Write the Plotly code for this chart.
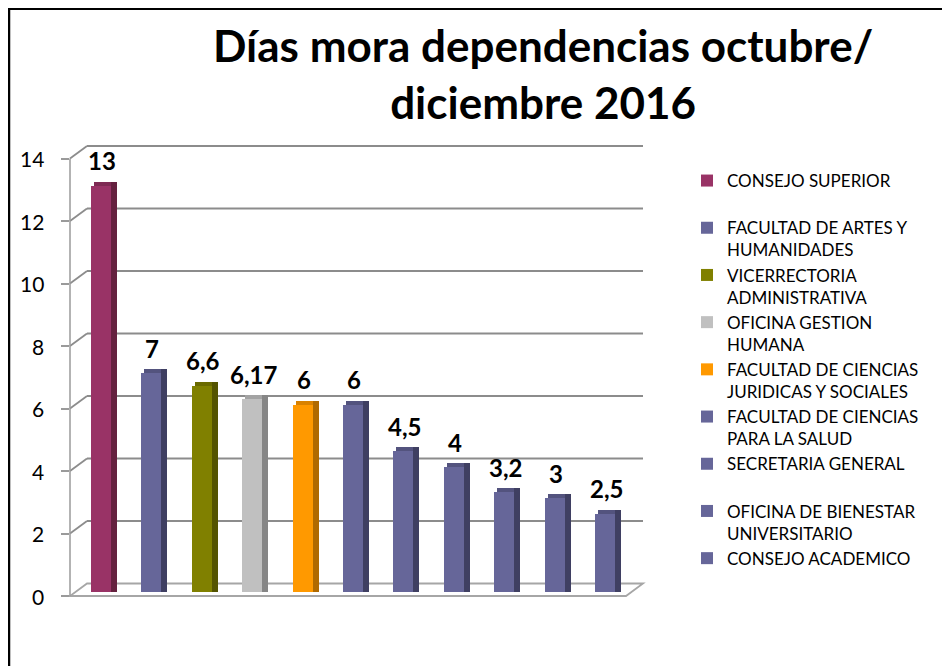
import plotly.graph_objects as go

# ---------------- data ----------------
categories = [
    "CONSEJO SUPERIOR",
    "FACULTAD DE ARTES Y<br>HUMANIDADES",
    "VICERRECTORIA<br>ADMINISTRATIVA",
    "OFICINA GESTION<br>HUMANA",
    "FACULTAD DE CIENCIAS<br>JURIDICAS Y SOCIALES",
    "FACULTAD DE CIENCIAS<br>PARA LA SALUD",
    "SECRETARIA GENERAL",
    "OFICINA DE BIENESTAR<br>UNIVERSITARIO",
    "CONSEJO ACADEMICO",
    "",
    "",
]
values = [13, 7, 6.6, 6.17, 6, 6, 4.5, 4, 3.2, 3, 2.5]
y_ticks = [0, 2, 4, 6, 8, 10, 12, 14]
y_tick_text = ["0", "2", "4", "6", "8", "10", "12", "14"]
title_text = "Días mora dependencias octubre/<br>diciembre 2016"

# ---------------- styling ----------------
front_colors = ["#993366", "#666699", "#808000", "#C0C0C0", "#FF9900",
                "#666699", "#666699", "#666699", "#666699", "#666699", "#666699"]
side_colors = ["#65213F", "#3F3F62", "#545400", "#868686", "#B06A00",
               "#3F3F62", "#3F3F62", "#3F3F62", "#3F3F62", "#3F3F62", "#3F3F62"]
top_colors = ["#7E2A53", "#53537E", "#6A6A00", "#A3A3A3", "#D98200",
              "#53537E", "#53537E", "#53537E", "#53537E", "#53537E", "#53537E"]

FONT = "Lato"
OFF = 8                                   # page body margin
W_FIG, H_FIG = 950 - OFF, 666 - OFF
L, R, T, B = 70 - OFF, 643 - OFF, 140 - OFF, 600 - OFF
PW, PH = R - L, B - T
K = 31.25                                 # px per unit (y)
SP = 50.4                                 # px per category (x)
FRONT0, BACK0, BAR0 = 596 - OFF, 583.5 - OFF, 592 - OFF
DX = 17

def sx(p):  # screen x -> paper
    return (p - OFF - L) / PW

def sy(p):  # screen y -> paper
    return (B - (p - OFF)) / PH

def xp(p):  # figure x -> paper
    return (p - L) / PW

def yp(p):
    return (B - p) / PH

def yrange(zero_px):
    lo = -(B - zero_px) / K
    return [lo, lo + PH / K]

x_lo = -((104 - OFF) - L) / SP
x_range = [x_lo, x_lo + PW / SP]

fig = go.Figure()

front_w, front_off = 20 / SP, -13 / SP
side_w, side_off = 6 / SP, 7 / SP
top_h = 4 / K

for i, (name, v) in enumerate(zip(categories, values)):
    show = name != ""
    label = name if "<br>" in name else name + "<br> "
    fig.add_trace(go.Bar(
        x=[i], y=[v], width=front_w, offset=front_off,
        marker=dict(color=front_colors[i], line=dict(width=0)),
        name=label if show else f"bar{i}", showlegend=show,
        yaxis="y2", hoverinfo="skip",
    ))
    fig.add_trace(go.Bar(
        x=[i], y=[top_h], base=[v], width=front_w, offset=front_off + 3 / SP,
        marker=dict(color=top_colors[i], line=dict(width=0)),
        showlegend=False, yaxis="y2", hoverinfo="skip",
    ))
    fig.add_trace(go.Bar(
        x=[i], y=[v + top_h], width=side_w, offset=side_off,
        marker=dict(color=side_colors[i], line=dict(width=0)),
        showlegend=False, yaxis="y2", hoverinfo="skip",
    ))

annotations = []
for i, v in enumerate(values):
    annotations.append(dict(
        x=i - 2 / SP, y=v, xref="x", yref="y2",
        text="<b>" + (f"{v:g}".replace(".", ",")) + "</b>",
        showarrow=False, yanchor="middle", yshift=25,
        font=dict(family=FONT, size=24, color="black"),
    ))

# y tick labels (front scale)
for t, s in zip(y_ticks, y_tick_text):
    annotations.append(dict(
        x=sx(46), y=t, xref="paper", yref="y",
        text=s, showarrow=False, xanchor="right", yanchor="middle",
        font=dict(family=FONT, size=21, color="black"),
    ))

# title
annotations.append(dict(
    x=sx(543), y=sy(74), xref="paper", yref="paper",
    text="<b>" + title_text + "</b>", showarrow=False,
    xanchor="center", yanchor="middle", align="center",
    font=dict(family=FONT, size=44, color="black"),
))

shapes = []
grid_col = "#8C8C8C"
for t in y_ticks:
    yb = BACK0 - K * t
    yf = FRONT0 - K * t
    if t != 0:
        shapes.append(dict(type="line", xref="paper", yref="paper",
                           x0=xp(L + DX), x1=xp(R), y0=yp(yb), y1=yp(yb),
                           line=dict(color=grid_col, width=1.8), layer="below"))
        shapes.append(dict(type="line", xref="paper", yref="paper",
                           x0=xp(L), x1=xp(L + DX), y0=yp(yf), y1=yp(yb),
                           line=dict(color=grid_col, width=1.8), layer="below"))
floor_col = "#A6A6A6"
shapes.append(dict(type="path", xref="paper", yref="paper",
                   path=(f"M {xp(L)},{yp(FRONT0)} L {xp(R - DX)},{yp(FRONT0)} "
                         f"L {xp(R)},{yp(BACK0)} L {xp(L + DX)},{yp(BACK0)} Z"),
                   line=dict(color=floor_col, width=1.8), fillcolor="white",
                   layer="below"))
shapes.append(dict(type="line", xref="paper", yref="paper",
                   x0=0, x1=0, y0=yp(FRONT0), y1=yp(FRONT0 - K * 14),
                   line=dict(color="#9A9A9A", width=1.5), layer="below"))
# outer border (top and left)
shapes.append(dict(type="line", xref="paper", yref="paper",
                   x0=sx(9), x1=sx(960), y0=yp(0.8), y1=yp(0.8),
                   line=dict(color="black", width=2.5)))
shapes.append(dict(type="line", xref="paper", yref="paper",
                   x0=sx(9), x1=sx(9), y0=yp(0), y1=sy(680),
                   line=dict(color="black", width=2.5)))

fig.update_layout(
    width=W_FIG, height=H_FIG,
    margin=dict(l=L, r=W_FIG - R, t=T, b=H_FIG - B, autoexpand=False),
    paper_bgcolor="white", plot_bgcolor="rgba(0,0,0,0)",
    barmode="overlay",
    bargap=0,
    font=dict(family=FONT, color="black"),
    xaxis=dict(range=x_range, visible=False, fixedrange=True),
    yaxis=dict(range=yrange(FRONT0), tickmode="array", tickvals=y_ticks,
               showticklabels=False, showgrid=False, zeroline=False,
               showline=False, ticks="outside", ticklen=8,
               tickcolor="#9A9A9A", tickwidth=1.5),
    yaxis2=dict(range=yrange(BAR0), overlaying="y", visible=False),
    legend=dict(x=sx(687), y=sy(163), xanchor="left", yanchor="top",
                valign="top", traceorder="normal", bgcolor="rgba(0,0,0,0)",
                font=dict(family=FONT, size=17, color="black"),
                itemwidth=30, tracegroupgap=0),
    shapes=shapes,
    annotations=annotations,
    showlegend=True,
)

fig.write_html("out.html")
